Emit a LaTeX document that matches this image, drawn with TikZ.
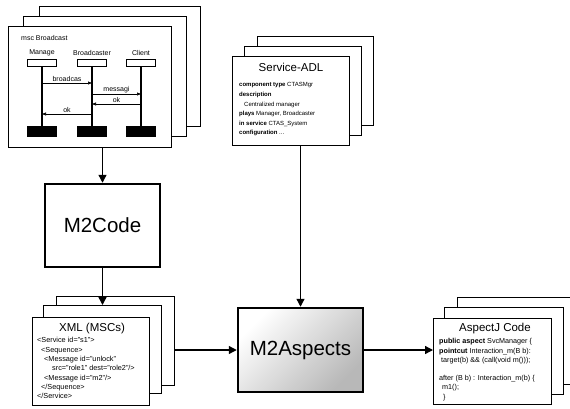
\documentclass[tikz,border=0pt]{standalone}
\usepackage{fontspec}
\setmainfont{Liberation Sans}
\usetikzlibrary{arrows.meta}

\tikzset{
	page/.style args={#1x#2}{draw=black, fill=white, line width=0.7pt, inner sep=0pt,
		anchor=north west, minimum width=#1, minimum height=#2},
	toolbox/.style={draw=black, fill=white, line width=2.5pt, inner sep=0pt,
		minimum width=115, minimum height=83, font=\fontsize{20.5}{24}\selectfont},
	shadedtool/.style={top color=white, bottom color=black!28, shading angle=45},
	pagetitle/.style={inner sep=0pt, font=\fontsize{11.5}{13}\selectfont},
	adltext/.style={anchor=north west, inner sep=0pt, align=left, font=\fontsize{6}{9.6}\selectfont},
	xmltext/.style={anchor=north west, inner sep=0pt, align=left, font=\fontsize{7.3}{9.3}\selectfont},
	ajtext/.style={anchor=north west, inner sep=0pt, align=left, font=\fontsize{7.2}{9.2}\selectfont},
	mscfont/.style={inner sep=1pt, font=\fontsize{7}{8}\selectfont},
	lifehead/.style={draw=black, fill=white, line width=0.7pt, inner sep=0pt, minimum width=29, minimum height=7},
	lifefoot/.style={draw=black, fill=black, inner sep=0pt, minimum width=29, minimum height=10},
	lifeline/.style={line width=1.3pt},
	arr/.style={line width=1.3pt, -{Triangle[length=8pt, width=8pt]}},
	msg/.style={line width=0.6pt, -{Triangle[length=4pt, width=3pt]}}
}

\begin{document}
\begin{tikzpicture}[x=1pt, y=-1pt]
	\useasboundingbox (0,0) rectangle (570,408);

	% msc pages
	\node[page=161x120] (mscC) at (39,6) {};
	\node[page=163x120] (mscB) at (23,16) {};
	\node[page=163x121] (mscA) at (8,26) {};
	\node[mscfont, anchor=west] (mscTitle) at (20,38) {msc Broadcast};
	\node[mscfont] (mgrLbl) at (42,53) {Manage};
	\node[mscfont] (bcLbl) at (92,53) {Broadcaster};
	\node[mscfont] (clLbl) at (141,53) {Client};
	\node[lifehead] (mgrHead) at (42,62.5) {};
	\node[lifehead] (bcHead) at (92,62.5) {};
	\node[lifehead] (clHead) at (141,62.5) {};
	\node[lifefoot] (mgrFoot) at (42,131.5) {};
	\node[lifefoot] (bcFoot) at (92,131.5) {};
	\node[lifefoot] (clFoot) at (141,131.5) {};
	\draw[lifeline] (mgrHead) -- (mgrFoot);
	\draw[lifeline] (bcHead) -- (bcFoot);
	\draw[lifeline] (clHead) -- (clFoot);
	\draw[msg] (mgrHead |- 0,83) -- (bcHead |- 0,83) node[midway, above, mscfont] (msg1) {broadcas};
	\draw[msg] (bcHead |- 0,94) -- (clHead |- 0,94) node[midway, above, mscfont] (msg2) {messagi};
	\draw[msg] (clHead |- 0,104) -- (bcHead |- 0,104) node[midway, above, mscfont] (msg3) {ok};
	\draw[msg] (bcHead |- 0,114) -- (mgrHead |- 0,114) node[midway, above, mscfont] (msg4) {ok};

	% Service-ADL pages
	\node[page=116x89] (adlC) at (257,36) {};
	\node[page=117x89] (adlB) at (244,46) {};
	\node[page=117x89] (adlA) at (232,56) {};
	\node[pagetitle] (adlTitle) at (291,67) {Service-ADL};
	\node[adltext] (adlBody) at (239,82.5) {\textbf{component type} CTASMgr\\
		\textbf{description}\\
		\hspace*{5pt}Centralized manager\\
		\textbf{plays} Manager, Broadcaster\\
		\textbf{in service} CTAS\_System\\
		\textbf{configuration} ...};

	% XML pages
	\node[page=118x89] (xmlC) at (56,296) {};
	\node[page=118x88] (xmlB) at (43,305) {};
	\node[page=117x88] (xmlA) at (32,317) {};
	\node[pagetitle] (xmlTitle) at (92,329) {XML (MSCs)};
	\node[xmltext] (xmlBody) at (37,337.5) {<Service id="s1">\\
		\hspace*{4pt}<Sequence>\\
		\hspace*{7pt}<Message id="unlock"\\
		\hspace*{15pt}src="role1" dest="role2"/>\\
		\hspace*{7pt}<Message id="m2"/>\\
		\hspace*{4pt}</Sequence>\\
		</Service>};

	% AspectJ pages
	\node[page=118x87] (ajC) at (457,297) {};
	\node[page=119x87] (ajB) at (444,307) {};
	\node[page=118x86] (ajA) at (433,318) {};
	\node[pagetitle] (ajTitle) at (495,329) {AspectJ Code};
	\node[ajtext] (ajBody) at (439,338.5) {\textbf{public aspect} SvcManager \{\\
		\textbf{pointcut} Interaction\_m(B b):\\
		\hspace*{2pt}target(b) \&\& (call(void m()));\\[9.2pt]
		after (B b) : Interaction\_m(b) \{\\
		\hspace*{3pt}m1();\\
		\hspace*{4pt}\}};

	% tools
	\node[toolbox] (m2code) at (102.5,225.5) {M2Code};
	\node[toolbox, shadedtool, minimum width=125, minimum height=84] (m2asp) at (300.5,350) {M2Aspects};

	\draw[arr] (m2code.north |- mscA.south) -- (m2code.north);
	\draw[arr] (m2code.south) -- (m2code.south |- xmlB.north);
	\draw[arr] (m2asp.north |- adlA.south) -- (m2asp.north);
	\draw[arr] (xmlC.east |- m2asp.west) -- (m2asp.west);
	\draw[arr] (m2asp.east) -- (m2asp.east -| ajA.west);
\end{tikzpicture}
\end{document}
